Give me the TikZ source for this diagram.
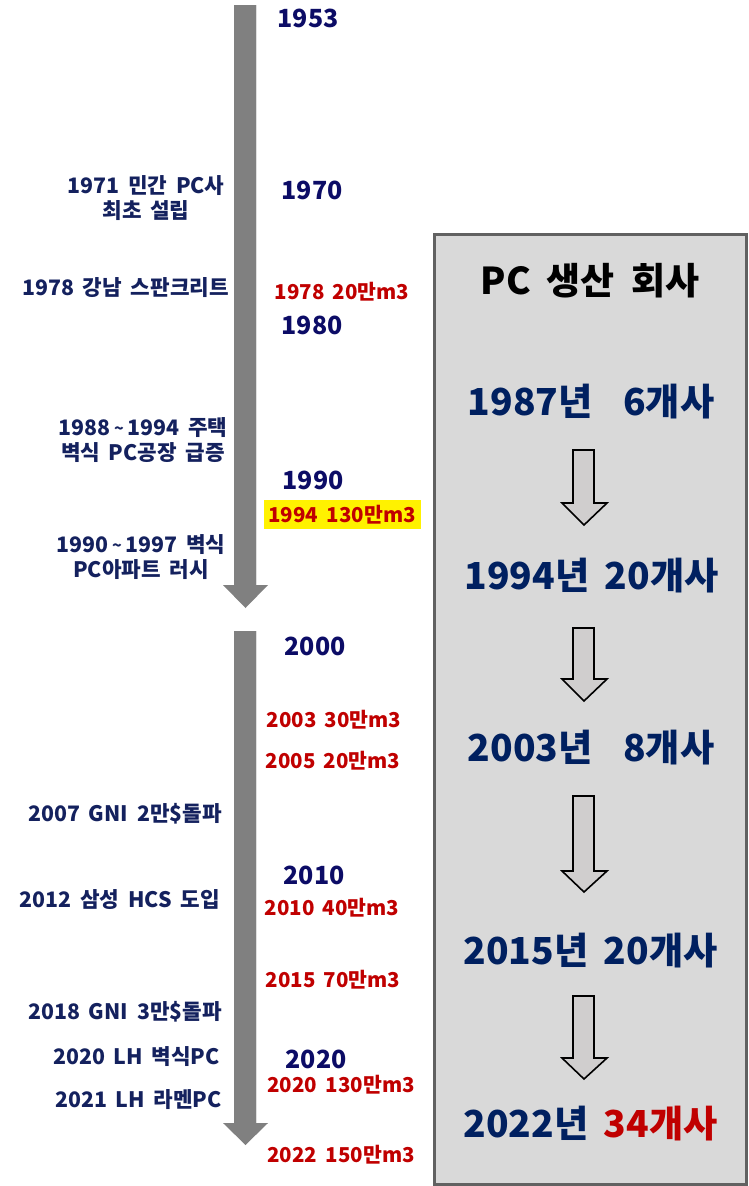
\documentclass[tikz,border=0pt]{standalone}
\usepackage{fontspec}
\setmainfont{Noto Sans CJK KR}[WordSpace=1.8]
\definecolor{yearblue}{HTML}{0C0C66}
\definecolor{labelblue}{HTML}{14215E}
\definecolor{boxblue}{HTML}{002060}
\definecolor{pcred}{HTML}{C00000}
\definecolor{boxgray}{HTML}{D9D9D9}
\definecolor{arrowgray}{HTML}{808080}
\definecolor{blockfill}{HTML}{D0CECE}
\newcommand{\mytilde}{\,{\fontsize{16}{16}\selectfont\raisebox{1pt}{\char"7E}}\,}
\begin{document}
\begin{tikzpicture}[x=1pt,y=-1pt,
  year/.style={text=yearblue,font=\fontsize{25}{28}\selectfont\bfseries,inner sep=0pt},
  lbl/.style={text=labelblue,font=\fontsize{21.3}{25}\selectfont\bfseries,align=center,inner sep=0pt},
  vol/.style={text=pcred,font=\fontsize{20.5}{24}\selectfont\bfseries,inner sep=0pt},
  boxtxt/.style={text=boxblue,font=\fontsize{37.2}{42}\selectfont\bfseries,inner sep=0pt},
  timearrow/.style={fill=arrowgray,draw=none},
  blockarrow/.style={fill=blockfill,draw=black,line width=1.6pt,line join=miter}]
\useasboundingbox (0,0) rectangle (749,1186);
% timeline arrows
\fill[timearrow] (234,5) -- (256,5) -- (256,585) -- (268,585) -- (245.5,608) -- (223,585) -- (234,585) -- cycle;
\draw[white!75!gray,line width=1pt] (256.3,5) -- (256.3,585);
\fill[timearrow] (234,631) -- (256,631) -- (256,1123) -- (268,1123) -- (245.5,1145) -- (223,1123) -- (234,1123) -- cycle;
\draw[white!75!gray,line width=1pt] (256.3,631) -- (256.3,1123);
% years
\node[year] (y1953) at (308,18) {1953};
\node[year] (y1970) at (312,190) {1970};
\node[year] (y1980) at (312,325) {1980};
\node[year] (y1990) at (313,480) {1990};
\node[year] (y2000) at (315,646) {2000};
\node[year] (y2010) at (314,875) {2010};
\node[year] (y2020) at (316,1059) {2020};
% left labels
\node[lbl] (l1971) at (146,198.5) {1971 민간 PC사\\최초 설립};
\node[lbl,anchor=east] (l1978) at (229,288) {1978 강남 스판크리트};
\node[lbl] (l1988) at (143,440.5) {1988\mytilde 1994 주택\\벽식 PC공장 급증};
\node[lbl] (l1990) at (141,557.5) {1990\mytilde 1997 벽식\\PC아파트 러시};
\node[lbl,anchor=east] (l2007) at (222,814) {2007 GNI 2만\$돌파};
\node[lbl,anchor=east] (l2012) at (220,900) {2012 삼성 HCS 도입};
\node[lbl,anchor=east] (l2018) at (222,1012) {2018 GNI 3만\$돌파};
\node[lbl,anchor=east] (l2020) at (220,1057) {2020 LH 벽식PC};
\node[lbl,anchor=east] (l2021) at (222,1100) {2021 LH 라멘PC};
% volumes
\node[vol] (v1978) at (342,292) {1978 20만m3};
\fill[yellow] (264,500) rectangle (421,529);
\node[vol] (v1994) at (342,515) {1994 130만m3};
\node[vol] (v2003) at (334,720) {2003 30만m3};
\node[vol] (v2005) at (333,761) {2005 20만m3};
\node[vol] (v2010) at (332,908) {2010 40만m3};
\node[vol] (v2015) at (333,980) {2015 70만m3};
\node[vol] (v2020) at (341,1085) {2020 130만m3};
\node[vol] (v2022) at (341,1155) {2022 150만m3};
% company box
\draw[fill=boxgray,draw=black!62,line width=2.6pt] (434.5,234.5) rectangle (746.5,1184.5);
\node[boxtxt,text=black,font=\fontsize{37}{40}\selectfont\bfseries] (title) at (590,281) {PC\hspace{16pt}생산\hspace{16pt}회사};
\node[boxtxt] (c1987) at (591,402) {1987년\ \ 6개사};
\node[boxtxt] (c1994) at (591.5,576) {1994년 20개사};
\node[boxtxt] (c2003) at (591,748) {2003년\ \ 8개사};
\node[boxtxt] (c2015) at (590.5,951) {2015년 20개사};
\node[boxtxt] (c2022) at (590.5,1124) {2022년 \textcolor{pcred}{34개사}};
% block arrows
\foreach \t/\h/\b in {450/503/525, 628/679/701, 796/871/892, 996/1058/1079}{
  \draw[blockarrow] (573,\t) -- (594,\t) -- (594,\h) -- (607,\h) -- (584,\b) -- (562,\h) -- (573,\h) -- cycle;
}
\end{tikzpicture}
\end{document}
